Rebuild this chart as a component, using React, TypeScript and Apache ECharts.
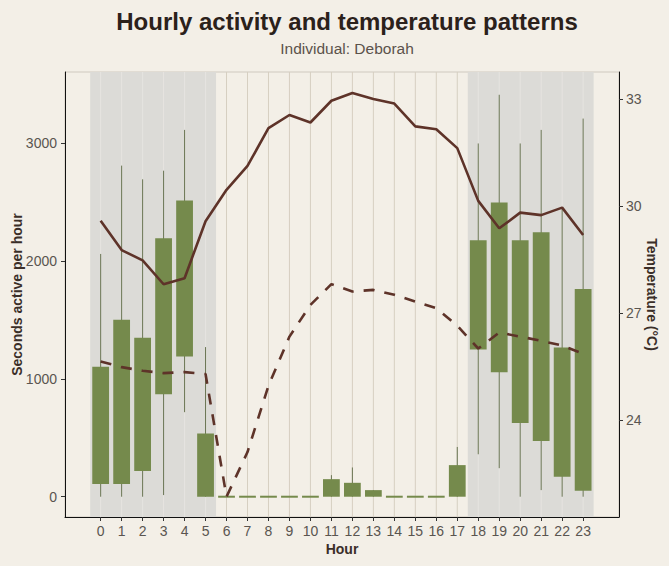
import React, { useEffect, useRef } from "react";
import * as echarts from "echarts";

const hours = [0, 1, 2, 3, 4, 5, 6, 7, 8, 9, 10, 11, 12, 13, 14, 15, 16, 17, 18, 19, 20, 21, 22, 23];
const whiskerLow = [0, 0, 0, 14, 717, 0, 0, 0, 0, 0, 0, 0, 0, 0, 0, 0, 0, 0, 360, 242, 0, 56, 0, 0];
const boxLow = [107, 107, 219, 869, 1190, 0, 0, 0, 0, 0, 0, 0, 0, 0, 0, 0, 0, 0, 1249, 1055, 625, 473, 169, 51];
const boxHigh = [1103, 1500, 1348, 2191, 2512, 537, 0, 0, 0, 0, 0, 149, 118, 56, 0, 0, 0, 268, 2175, 2495, 2175, 2242, 1266, 1761];
const whiskerHigh = [2059, 2808, 2692, 2765, 3111, 1269, 0, 0, 0, 0, 0, 183, 248, 56, 0, 0, 0, 422, 2996, 3409, 2996, 3111, 2450, 3207];
const temperature = [29.59, 28.77, 28.48, 27.81, 27.98, 29.58, 30.46, 31.13, 32.19, 32.56, 32.35, 32.96, 33.18, 33.01, 32.88, 32.24, 32.16, 31.63, 30.15, 29.38, 29.82, 29.75, 29.96, 29.19];
const dashedSeries = [1147, 1099, 1068, 1048, 1057, 1040, 0, 379, 941, 1358, 1627, 1803, 1740, 1754, 1712, 1655, 1599, 1450, 1257, 1392, 1358, 1322, 1282, 1212];
const nightBands = [[-0.5, 5.5], [17.5, 23.5]];
const leftTicks = [0, 1000, 2000, 3000];
const rightTicks = [24, 27, 30, 33];

const FONT = "'Liberation Sans', Arial, sans-serif";
const BG = "#f3efe7";
const BAND = "#dcdbd7";
const GRID_LIGHT = "#d6cfc1";
const GRID_BAND = "#e6e4e0";
const GREEN = "#758a4c";
const WHISKER = "#6a7553";
const BROWN = "#5e3329";

export default function App() {
  const ref = useRef<HTMLDivElement>(null);
  useEffect(() => {
    document.body.style.margin = "0";
    document.body.style.background = BG;
    const chart = echarts.init(ref.current!, null, { renderer: "svg" });
    const boxData = hours.map((h, i) => [h, whiskerLow[i], boxLow[i], boxHigh[i], whiskerHigh[i]]);
    const axisLabelStyle = {
      color: "#5a5550",
      fontSize: 14,
      fontFamily: FONT,
      formatter: (v: number) => String(v),
    };
    const nameStyle = { color: "#3a2e28", fontSize: 14, fontWeight: "bold", fontFamily: FONT };
    chart.setOption({
      animation: false,
      backgroundColor: BG,
      textStyle: { fontFamily: FONT },
      title: [
        {
          text: "Hourly activity and temperature patterns",
          left: 342,
          top: 4,
          textAlign: "center",
          textStyle: { fontSize: 24, fontWeight: "bold", color: "#2b211b", fontFamily: FONT },
        },
        {
          text: "Individual: Deborah",
          left: 342,
          top: 35,
          textAlign: "center",
          textStyle: { fontSize: 15.5, fontWeight: "normal", color: "#5b524b", fontFamily: FONT },
        },
      ],
      grid: {
        left: 65,
        top: 72,
        width: 554,
        height: 445,
        containLabel: false,
        outerBoundsMode: "none",
        show: true,
        borderColor: "#cfc9bf",
        borderWidth: 1,
        backgroundColor: "transparent",
      },
      xAxis: {
        type: "value",
        min: -1.7,
        max: 24.71,
        name: "Hour",
        nameLocation: "middle",
        nameGap: 25,
        nameMoveOverlap: false,
        nameTextStyle: nameStyle,
        axisLine: { show: true, onZero: false, lineStyle: { color: "#111", width: 1 } },
        axisTick: { show: true, length: 4, customValues: hours, lineStyle: { color: "#333" } },
        axisLabel: { ...axisLabelStyle, margin: 7, customValues: hours },
        splitLine: { show: false },
      },
      yAxis: [
        {
          type: "value",
          min: -172,
          max: 3602,
          name: "Seconds active per hour",
          nameLocation: "middle",
          nameGap: 41,
          nameRotate: 90,
          nameMoveOverlap: false,
          nameTextStyle: nameStyle,
          axisLine: { show: true, onZero: false, lineStyle: { color: "#111", width: 1 } },
          axisTick: { show: true, length: 4, customValues: leftTicks, lineStyle: { color: "#333" } },
          axisLabel: { ...axisLabelStyle, margin: 8, customValues: leftTicks },
          splitLine: { show: false },
        },
        {
          type: "value",
          position: "right",
          min: 21.278,
          max: 33.767,
          name: "Temperature (°C)",
          nameLocation: "middle",
          nameGap: 26,
          nameRotate: -90,
          nameMoveOverlap: false,
          nameTextStyle: nameStyle,
          axisLine: { show: true, onZero: false, lineStyle: { color: "#111", width: 1 } },
          axisTick: { show: true, length: 4, customValues: rightTicks, lineStyle: { color: "#333" } },
          axisLabel: { ...axisLabelStyle, margin: 7, customValues: rightTicks },
          splitLine: { show: false },
        },
      ],
      series: [
        {
          type: "custom",
          name: "night",
          z: 1,
          silent: true,
          data: nightBands,
          encode: { x: [0, 1], y: [] },
          renderItem: (params: any, api: any) => {
            const cs = params.coordSys;
            const x1 = api.coord([api.value(0), 0])[0];
            const x2 = api.coord([api.value(1), 0])[0];
            return {
              type: "rect",
              shape: { x: x1, y: cs.y, width: x2 - x1, height: cs.height },
              style: { fill: BAND },
            };
          },
        },
        {
          type: "custom",
          name: "grid",
          z: 2,
          silent: true,
          data: hours.map((h) => [h]),
          encode: { x: 0 },
          renderItem: (params: any, api: any) => {
            const cs = params.coordSys;
            const h = api.value(0);
            const x = api.coord([h, 0])[0];
            const inBand = nightBands.some((b) => h > b[0] && h < b[1]);
            return {
              type: "line",
              shape: { x1: x, y1: cs.y, x2: x, y2: cs.y + cs.height },
              style: { stroke: inBand ? GRID_BAND : GRID_LIGHT, lineWidth: 1 },
            };
          },
        },
        {
          type: "custom",
          name: "activity",
          z: 3,
          yAxisIndex: 0,
          data: boxData,
          encode: { x: 0, y: [1, 2, 3, 4] },
          renderItem: (params: any, api: any) => {
            const x = api.value(0);
            const wl = api.value(1);
            const bl = api.value(2);
            const bh = api.value(3);
            const wh = api.value(4);
            const pLow = api.coord([x, wl]);
            const pHigh = api.coord([x, wh]);
            const pBoxTop = api.coord([x, bh]);
            const pBoxBot = api.coord([x, bl]);
            const w = api.size([0.8, 0])[0];
            const children: any[] = [];
            if (wh > wl) {
              children.push({
                type: "line",
                shape: { x1: pLow[0], y1: pLow[1], x2: pHigh[0], y2: pHigh[1] },
                style: { stroke: WHISKER, lineWidth: 1 },
              });
            }
            let top = pBoxTop[1];
            let height = pBoxBot[1] - pBoxTop[1];
            if (height < 2) {
              top = pBoxBot[1] - 1;
              height = 2;
            }
            children.push({
              type: "rect",
              shape: { x: pBoxTop[0] - w / 2, y: top, width: w, height },
              style: { fill: GREEN },
            });
            return { type: "group", children };
          },
        },
        {
          type: "line",
          name: "dashed",
          z: 4,
          yAxisIndex: 0,
          data: hours.map((h, i) => [h, dashedSeries[i]]),
          symbol: "none",
          lineStyle: { color: BROWN, width: 2.6, type: [11, 10] },
        },
        {
          type: "line",
          name: "temperature",
          z: 5,
          yAxisIndex: 1,
          data: hours.map((h, i) => [h, temperature[i]]),
          symbol: "none",
          lineStyle: { color: BROWN, width: 2.6 },
        },
      ],
    });
    return () => chart.dispose();
  }, []);
  return <div ref={ref} style={{ width: 669, height: 566 }} />;
}
